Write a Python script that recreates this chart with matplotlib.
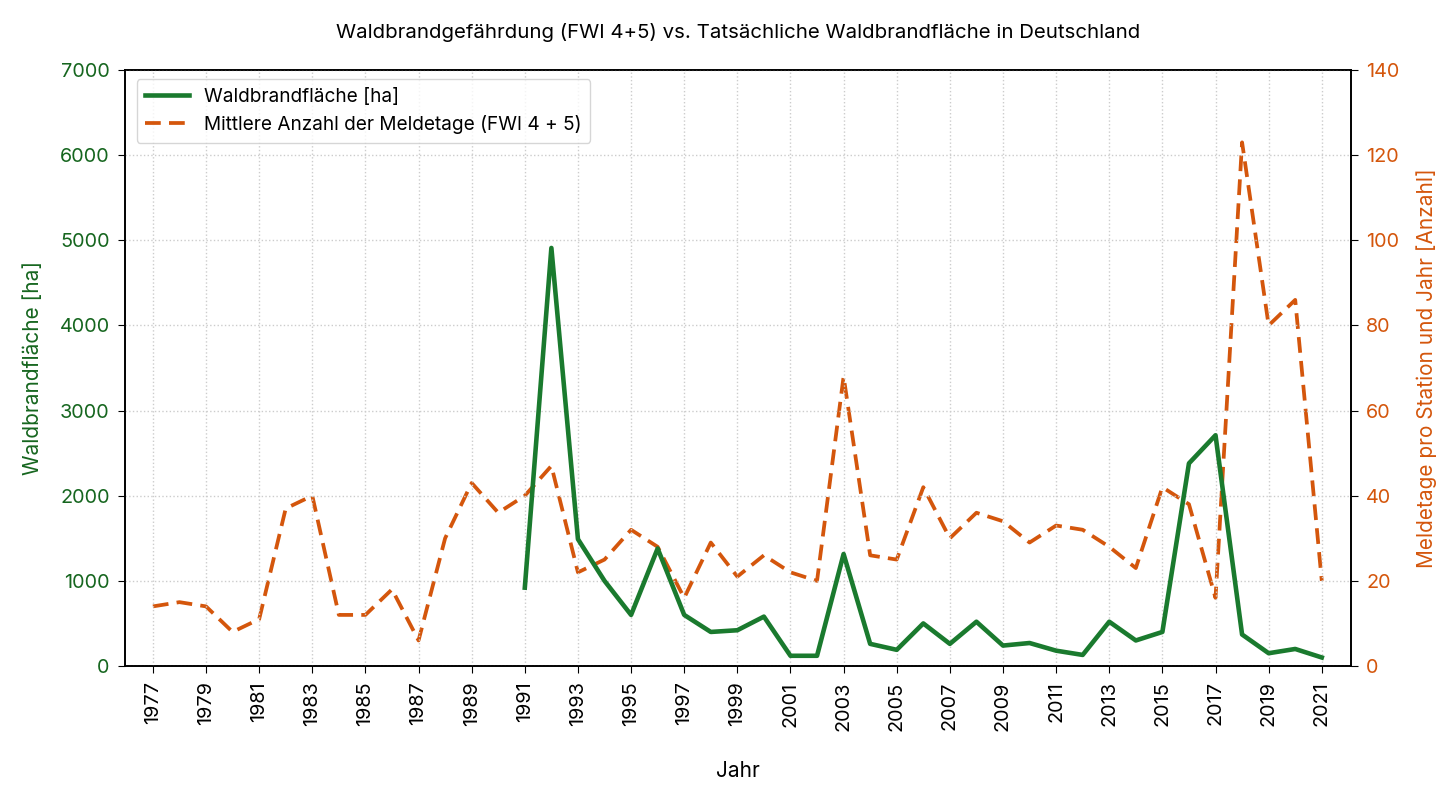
import matplotlib
matplotlib.use("Agg")
import matplotlib.pyplot as plt

plt.rcParams['font.family'] = ['Inter', 'DejaVu Sans']

years = list(range(1977, 2022))
fwi_days = [14, 15, 14, 8, 11, 37, 40, 12, 12, 18,
            6, 30, 43, 36, 40, 47, 22, 25, 32, 28,
            16, 29, 21, 26, 22, 20, 68, 26, 25, 42,
            30, 36, 34, 29, 33, 32, 28, 23, 42, 38,
            16, 123, 80, 86, 20]

area_years = list(range(1991, 2022))
area_ha = [920, 4910, 1490, 1000, 600, 1380, 600, 400, 420, 580,
           120, 120, 1315, 260, 190, 500, 260, 520, 240, 270,
           180, 130, 520, 300, 400, 2380, 2710, 370, 150, 200, 100]

title = "Waldbrandgefährdung (FWI 4+5) vs. Tatsächliche Waldbrandfläche in Deutschland"
label_area = "Waldbrandfläche [ha]"
label_fwi = "Mittlere Anzahl der Meldetage (FWI 4 + 5)"
ylabel_left = "Waldbrandfläche [ha]"
ylabel_right = "Meldetage pro Station und Jahr [Anzahl]"
xlabel = "Jahr"

green = "#1a7a2e"
green_txt = "#16661f"
orange = "#d4560c"

fig = plt.figure(figsize=(14.56, 8.01), dpi=100)
ax = fig.add_axes([125/1456, 1 - 666/801, (1351-125)/1456, (666-70)/801])
ax2 = ax.twinx()

l1, = ax.plot(area_years, area_ha, color=green, lw=3.3, label=label_area, zorder=3)
l2, = ax2.plot(years, fwi_days, color=orange, lw=2.7, ls=(0, (4.2, 2.2)), label=label_fwi)

ax.set_xlim(1975.95, 2022.1)
ax.set_ylim(0, 7000)
ax2.set_ylim(0, 140)
ax.set_yticks(range(0, 7001, 1000))
ax2.set_yticks(range(0, 141, 20))
ax.set_xticks(years[::2])
ax.set_xticklabels([str(y) for y in years[::2]], rotation=90)

ax.grid(True, ls=':', color='#cccccc', lw=1)
ax.set_axisbelow(True)

ax.tick_params(axis='x', labelsize=14.3, colors='black', length=5, pad=6)
ax.tick_params(axis='y', labelsize=14.3, colors=green_txt, length=5, pad=6)
ax.tick_params(axis='y', color='black')
ax2.tick_params(axis='y', labelsize=14.3, colors=orange, length=5, pad=6)
ax2.tick_params(axis='y', color='black')

for a in (ax, ax2):
    for s in a.spines.values():
        s.set_linewidth(1.2)

ax.set_ylabel(ylabel_left, color=green_txt, fontsize=15, labelpad=12)
ax2.set_ylabel(ylabel_right, color=orange, fontsize=15, labelpad=12)
ax.set_xlabel(xlabel, fontsize=15, labelpad=22)
ax.set_title(title, fontsize=14.7, pad=23)

leg = ax.legend(handles=[l1, l2], loc='upper left', fontsize=13.7,
                frameon=True, fancybox=True, edgecolor='#cccccc',
                handlelength=2.3, borderpad=0.45, borderaxespad=0,
                bbox_to_anchor=(0.0095, 0.985))
ax.set_zorder(ax2.get_zorder() + 1)
ax.patch.set_visible(False)

fig.savefig("out.png", dpi=100)
